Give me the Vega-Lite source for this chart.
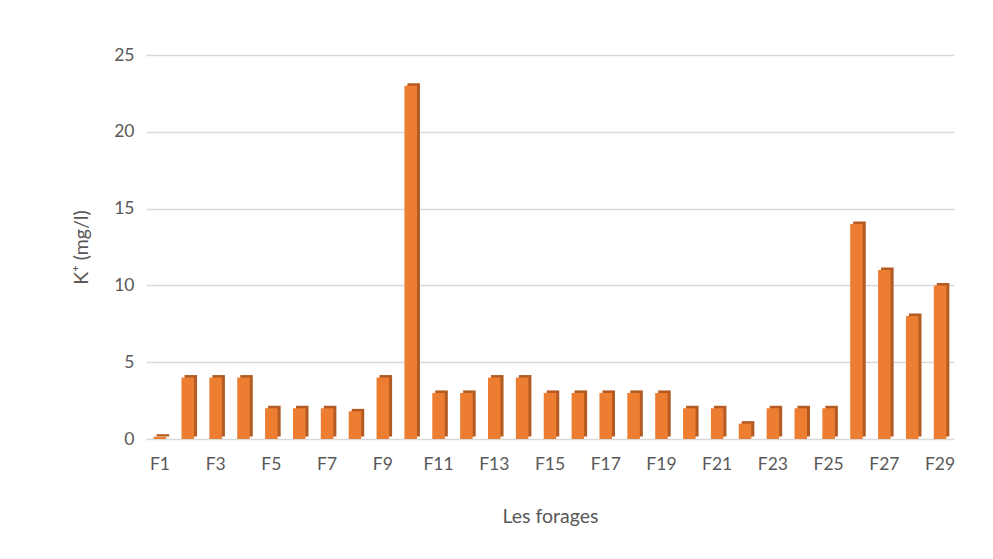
{
  "$schema": "https://vega.github.io/schema/vega-lite/v6.json",
  "width": 808,
  "height": 384,
  "autosize": {"type": "none"},
  "padding": {"left": 146, "top": 55, "right": 39, "bottom": 120},
  "background": "white",
  "config": {
    "view": {"stroke": null},
    "font": "Lato",
    "axis": {"labelColor": "#595959", "titleColor": "#595959", "labelFont": "Lato", "titleFont": "Lato", "titleFontWeight": "normal"}
  },
  "data": {
    "values": [
      {"forage": "F1", "k": 0.15},
      {"forage": "F2", "k": 4},
      {"forage": "F3", "k": 4},
      {"forage": "F4", "k": 4},
      {"forage": "F5", "k": 2},
      {"forage": "F6", "k": 2},
      {"forage": "F7", "k": 2},
      {"forage": "F8", "k": 1.8},
      {"forage": "F9", "k": 4},
      {"forage": "F10", "k": 23},
      {"forage": "F11", "k": 3},
      {"forage": "F12", "k": 3},
      {"forage": "F13", "k": 4},
      {"forage": "F14", "k": 4},
      {"forage": "F15", "k": 3},
      {"forage": "F16", "k": 3},
      {"forage": "F17", "k": 3},
      {"forage": "F18", "k": 3},
      {"forage": "F19", "k": 3},
      {"forage": "F20", "k": 2},
      {"forage": "F21", "k": 2},
      {"forage": "F22", "k": 1},
      {"forage": "F23", "k": 2},
      {"forage": "F24", "k": 2},
      {"forage": "F25", "k": 2},
      {"forage": "F26", "k": 14},
      {"forage": "F27", "k": 11},
      {"forage": "F28", "k": 8},
      {"forage": "F29", "k": 10}
    ]
  },
  "encoding": {
    "x": {
      "field": "forage", "type": "nominal", "sort": null,
      "scale": {"paddingInner": 0.55, "paddingOuter": 0.275},
      "axis": {
        "title": "Les forages", "titleFontSize": 19.5, "titlePadding": 35,
        "labelFontSize": 17.5, "labelAngle": 0, "labelPadding": 16,
        "values": ["F1","F3","F5","F7","F9","F11","F13","F15","F17","F19","F21","F23","F25","F27","F29"],
        "ticks": false, "domain": false, "grid": false
      }
    },
    "y": {
      "field": "k", "type": "quantitative",
      "scale": {"domain": [0, 25], "nice": false},
      "axis": {
        "title": "K⁺ (mg/l)", "titleFontSize": 19.5, "titlePadding": 22,
        "labelFontSize": 17.5, "labelPadding": 12,
        "values": [0, 5, 10, 15, 20, 25],
        "ticks": false, "domain": false,
        "grid": true, "gridColor": "#d9d9d9", "gridWidth": 1.5
      }
    }
  },
  "layer": [
    {"mark": {"type": "bar", "color": "#b35b22", "xOffset": 3, "yOffset": -2.5, "y2Offset": -2.5}},
    {"mark": {"type": "bar", "color": "#ed7d31"}}
  ]
}
